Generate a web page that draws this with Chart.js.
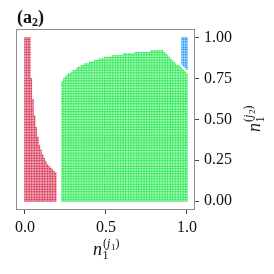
<!DOCTYPE html>
<html>
<head>
<meta charset="utf-8">
<script src="https://cdn.jsdelivr.net/npm/chart.js@4/dist/chart.umd.min.js"></script>
<style>
  html, body { margin: 0; padding: 0; background: #fff; }
  canvas { display: block; }
</style>
</head>
<body>
<canvas id="chart" width="274" height="274"></canvas>
<script>
const RED = 'rgb(216, 48, 80)';
const GREEN = 'rgb(34, 232, 78)';
const BLUE = 'rgb(40, 152, 250)';
const SERIF = '"Liberation Serif", "DejaVu Serif", serif';

// grid spacing of the cells (both axes)
const STEP = 0.01;

// red region: columns from x = 0.00, cells from y = 0 up to redTop
const RED_X0 = 0.0;
const redTop = [1.00, 1.00, 1.00, 1.00, 0.75, 0.62, 0.52, 0.45, 0.39, 0.34,
                0.31, 0.28, 0.26, 0.24, 0.22, 0.21, 0.20, 0.19, 0.18, 0.17];

// green region: columns from x = 0.23 to 1.00, cells from y = 0 up to greenTop
const GREEN_X0 = 0.23;
const greenTop = [
  0.73, 0.75, 0.76, 0.77, 0.78, 0.78, 0.79, 0.80,
  0.80, 0.81, 0.82, 0.82, 0.83, 0.83, 0.84, 0.84, 0.84, 0.85,
  0.85, 0.85, 0.86, 0.86, 0.86, 0.87, 0.87, 0.87, 0.88, 0.88,
  0.88, 0.88, 0.88, 0.89, 0.89, 0.89, 0.89, 0.89, 0.89, 0.89,
  0.90, 0.90, 0.90, 0.90, 0.90, 0.90, 0.90, 0.91, 0.91, 0.91,
  0.91, 0.91, 0.91, 0.91, 0.91, 0.91, 0.91, 0.92, 0.92, 0.92,
  0.92, 0.92, 0.92, 0.92, 0.92, 0.91, 0.90, 0.89, 0.88, 0.87,
  0.86, 0.85, 0.84, 0.83, 0.83, 0.82, 0.81, 0.80, 0.79, 0.78,
];

// blue region: columns from x = 0.97, cells from blueBottom up to BLUE_TOP
const BLUE_X0 = 0.97;
const blueBottom = [0.84, 0.83, 0.82, 0.81];
const BLUE_TOP = 1.0;

const xTicks = [0, 0.5, 1];
const xTickLabels = ['0.0', '0.5', '1.0'];
const yTicks = [0, 0.25, 0.5, 0.75, 1];
const yTickLabels = ['0.00', '0.25', '0.50', '0.75', '1.00'];

function cells(x0, lows, highs) {
  const pts = [];
  highs.forEach((hi, i) => {
    const x = +(x0 + i * STEP).toFixed(2);
    const lo = Array.isArray(lows) ? lows[i] : lows;
    for (let k = Math.round(lo / STEP); k <= Math.round(hi / STEP); k++) {
      pts.push({ x, y: +(k * STEP).toFixed(2) });
    }
  });
  return pts;
}

function cellSet(data, color) {
  return {
    data,
    pointStyle: 'rect',
    pointRadius: 0.98,
    borderWidth: 0,
    backgroundColor: color,
  };
}

// draws n_1^{(j_k)} centred on cx, baseline at base
function drawLabel(ctx, cx, base, k) {
  const big = `italic 18px ${SERIF}`;
  const small = `12px ${SERIF}`;
  const smallIt = `italic 12px ${SERIF}`;
  const tiny = `9px ${SERIF}`;
  const w = (t, f) => { ctx.font = f; return ctx.measureText(t).width; };
  const wN = w('n', big);
  const wSup = w('(', small) + w('j', smallIt) + w(k, tiny) + w(')', small) + 1;
  const wSub = w('1', small);
  let x = cx - (wN + Math.max(wSup, wSub)) / 2;
  ctx.textBaseline = 'alphabetic';
  ctx.textAlign = 'left';
  ctx.font = big; ctx.fillText('n', x, base);
  x += wN + 0.5;
  ctx.font = small; ctx.fillText('1', x, base + 4);
  let sx = x + 0.5;
  const supBase = base - 8;
  ctx.font = small; ctx.fillText('(', sx, supBase); sx += w('(', small);
  ctx.font = smallIt; ctx.fillText('j', sx, supBase); sx += w('j', smallIt) + 0.5;
  ctx.font = tiny; ctx.fillText(k, sx, supBase + 2.5); sx += w(k, tiny);
  ctx.font = small; ctx.fillText(')', sx, supBase);
}

const decorations = {
  id: 'decorations',
  afterDraw(chart) {
    const { ctx, chartArea: a } = chart;
    ctx.save();
    ctx.strokeStyle = '#8c8c8c';
    ctx.lineWidth = 1;
    ctx.strokeRect(Math.round(a.left) + 0.5, Math.round(a.top) + 0.5,
      Math.round(a.right - a.left) - 1, Math.round(a.bottom - a.top) - 1);

    ctx.fillStyle = '#111';
    // panel title (a_2)
    ctx.textBaseline = 'alphabetic';
    ctx.textAlign = 'left';
    let x = 17;
    ctx.font = `bold 18px ${SERIF}`;
    ctx.fillText('(a', x, 23); x += ctx.measureText('(a').width;
    ctx.font = `bold 12px ${SERIF}`;
    ctx.fillText('2', x, 26); x += ctx.measureText('2').width;
    ctx.font = `bold 18px ${SERIF}`;
    ctx.fillText(')', x, 23);

    drawLabel(ctx, 106, 255, '1');
    ctx.translate(260, 119);
    ctx.rotate(-Math.PI / 2);
    drawLabel(ctx, 0, 0, '2');
    ctx.restore();
  },
};

new Chart(document.getElementById('chart'), {
  type: 'scatter',
  data: {
    datasets: [
      cellSet(cells(RED_X0, 0, redTop), RED),
      cellSet(cells(GREEN_X0, 0, greenTop), GREEN),
      cellSet(cells(BLUE_X0, blueBottom, blueBottom.map(() => BLUE_TOP)), BLUE),
    ],
  },
  options: {
    responsive: false,
    animation: false,
    events: [],
    layout: { padding: { left: 16, top: 29, right: 0, bottom: 0 } },
    plugins: { legend: { display: false }, tooltip: { enabled: false } },
    scales: {
      x: {
        type: 'linear',
        position: 'bottom',
        min: -0.055,
        max: 1.05,
        afterBuildTicks: (s) => { s.ticks = xTicks.map((v) => ({ value: v })); },
        afterFit: (s) => { s.height = 64; },
        grid: { drawOnChartArea: false, tickLength: 4, color: '#444' },
        border: { display: false },
        ticks: {
          callback: (v, i) => xTickLabels[i],
          padding: 4,
          maxRotation: 0,
          color: '#111',
          font: { family: SERIF, size: 16 },
        },
      },
      y: {
        type: 'linear',
        position: 'right',
        min: -0.055,
        max: 1.055,
        afterBuildTicks: (s) => { s.ticks = yTicks.map((v) => ({ value: v })); },
        afterFit: (s) => { s.width = 79; },
        grid: { drawOnChartArea: false, tickLength: 4, color: '#444' },
        border: { display: false },
        ticks: {
          callback: (v, i) => yTickLabels[i],
          padding: 5,
          color: '#111',
          font: { family: SERIF, size: 16 },
        },
      },
    },
  },
  plugins: [decorations],
});
</script>
</body>
</html>
